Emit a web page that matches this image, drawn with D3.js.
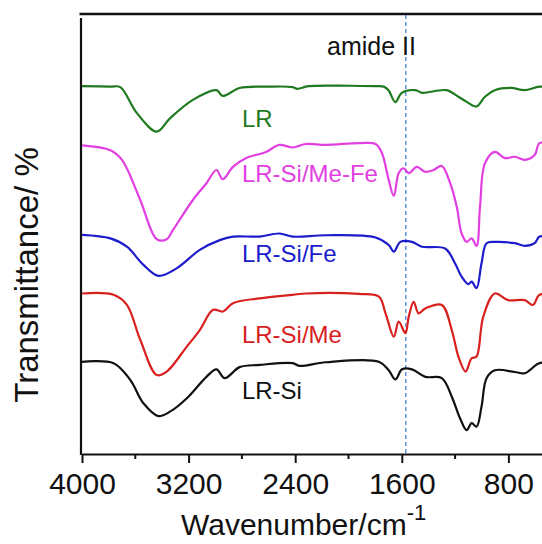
<!DOCTYPE html>
<html>
<head>
<meta charset="utf-8">
<script src="https://cdn.jsdelivr.net/npm/d3@7"></script>
<style>
  html, body { margin: 0; padding: 0; background: #fff; }
  svg { display: block; }
  text { font-family: "Liberation Sans", Arial, "DejaVu Sans", sans-serif; fill: #111; }
</style>
</head>
<body>
<svg id="chart" width="542" height="544"></svg>
<script>
// Wavenumber (cm-1) and transmittance (arbitrary, offset) for each spectrum
const lrWn = [4000, 3787, 3713, 3588, 3439, 3340, 3168, 2991, 2944, 2817, 2600, 2419, 2384, 2300, 2000, 1800, 1735, 1700, 1648, 1601, 1498, 1449, 1265, 1175, 1116, 1041, 976, 902, 780, 678, 566, 450];
const lrT  = [83.4, 83.3, 83.2, 77.3, 73.1, 76.1, 80.3, 82.5, 81.2, 83.0, 83.3, 83.2, 82.8, 83.4, 83.5, 83.4, 83.3, 82.5, 79.8, 81.9, 82.5, 81.9, 82.5, 81.0, 79.9, 78.8, 81.0, 82.5, 83.0, 82.5, 83.3, 83.0];

const meFeWn = [4000, 3787, 3700, 3563, 3439, 3364, 3317, 3168, 3066, 2991, 2944, 2867, 2767, 2618, 2519, 2419, 2319, 2170, 1922, 1797, 1750, 1698, 1660, 1623, 1586, 1548, 1487, 1424, 1362, 1300, 1237, 1188, 1151, 1113, 1076, 1039, 1013, 976, 902, 827, 752, 678, 603, 566, 450];
const meFeT  = [70.0, 68.9, 66.7, 57.6, 48.7, 48.7, 50.8, 57.6, 61.4, 64.4, 62.3, 65.1, 67.1, 68.5, 70.1, 69.5, 70.3, 70.1, 70.5, 70.3, 68.3, 62.1, 58.5, 63.7, 64.8, 63.7, 65.1, 64.0, 64.4, 65.3, 61.4, 56.1, 50.0, 48.1, 48.9, 47.2, 56.1, 65.9, 68.5, 67.1, 67.4, 66.7, 67.8, 70.5, 70.0];

const siFeWn = [4000, 3787, 3663, 3539, 3427, 3290, 3116, 2966, 2867, 2668, 2519, 2419, 2170, 1797, 1698, 1660, 1610, 1524, 1449, 1275, 1200, 1151, 1101, 1076, 1039, 1002, 964, 902, 752, 678, 603, 566, 450];
const siFeT  = [49.7, 48.9, 47.0, 42.9, 40.4, 42.1, 46.3, 48.5, 49.3, 49.3, 50.0, 49.3, 49.6, 49.1, 47.4, 45.9, 48.1, 48.1, 47.0, 46.6, 43.2, 40.2, 38.5, 39.1, 37.6, 43.2, 47.8, 48.1, 47.8, 47.2, 47.8, 49.3, 49.0];

const siMeWn = [4000, 3763, 3663, 3563, 3439, 3364, 3215, 3116, 3016, 2942, 2867, 2668, 2419, 2319, 1922, 1772, 1722, 1660, 1623, 1573, 1548, 1511, 1474, 1424, 1300, 1225, 1175, 1121, 1076, 1039, 989, 902, 802, 678, 616, 566, 450];
const siMeT  = [36.4, 36.1, 33.8, 25.9, 17.9, 18.7, 24.3, 28.1, 32.7, 32.3, 34.2, 35.3, 36.1, 36.4, 36.3, 35.7, 31.9, 26.6, 30.0, 27.4, 31.1, 34.5, 31.9, 33.0, 33.8, 28.1, 22.1, 18.7, 21.7, 22.1, 31.1, 36.4, 34.9, 34.9, 33.8, 36.1, 36.0];

const siWn = [4000, 3763, 3638, 3539, 3427, 3340, 3215, 3066, 2991, 2929, 2817, 2668, 2419, 2369, 2170, 1772, 1698, 1648, 1598, 1524, 1424, 1300, 1225, 1163, 1113, 1076, 1039, 1002, 964, 902, 752, 678, 566, 450];
const siT  = [20.9, 20.6, 16.8, 11.5, 8.6, 9.6, 12.6, 17.5, 19.2, 17.2, 19.7, 20.2, 20.6, 20.0, 20.8, 20.9, 19.0, 16.9, 19.2, 19.2, 17.5, 17.2, 13.0, 8.1, 5.4, 7.0, 6.2, 10.7, 17.2, 19.0, 18.6, 18.3, 20.6, 20.5];

const seriesNames  = ["LR", "LR-Si/Me-Fe", "LR-Si/Fe", "LR-Si/Me", "LR-Si"];
const seriesColors = ["#1f7a1f", "#e23fe2", "#1c1ccc", "#d8211f", "#111111"];
const xTickValues = [4000, 3200, 2400, 1600, 800];
const xMinorTicks = [3600, 2800, 2000, 1200];
const amideWn = 1570;
const amideLabel = "amide II";
const xTitle = "Wavenumber/cm";
const xTitleSup = "-1";
const yTitle = "Transmittance/ %";

const series = [
  {wn: lrWn, t: lrT}, {wn: meFeWn, t: meFeT}, {wn: siFeWn, t: siFeT},
  {wn: siMeWn, t: siMeT}, {wn: siWn, t: siT}
];
// label anchor (wavenumber, transmittance) for each series label
const labelWn = [2800, 2800, 2800, 2800, 2800];
const labelT  = [74.2, 61.6, 43.5, 25.2, 12.5];

const svg = d3.select("#chart");
const x0 = 82, xEnd = 82 + 3600 * 106.6 / 800;
const x = d3.scaleLinear().domain([4000, 400]).range([x0, xEnd]);
const y = d3.scaleLinear().domain([0, 100]).range([454, 13]);

// frame: top line and left axis
svg.append("line").attr("x1", 79.5).attr("x2", 542).attr("y1", 14).attr("y2", 14)
  .attr("stroke", "#111").attr("stroke-width", 2.6);
svg.append("line").attr("x1", 81).attr("x2", 81).attr("y1", 18).attr("y2", 455)
  .attr("stroke", "#111").attr("stroke-width", 2.2);

// dashed amide II line
svg.append("line").attr("x1", x(amideWn)).attr("x2", x(amideWn)).attr("y1", 15).attr("y2", 454)
  .attr("stroke", "#4a80dc").attr("stroke-width", 1.3).attr("stroke-dasharray", "4,3");

// bottom axis
const xAxis = d3.axisBottom(x).tickValues(xTickValues).tickSize(9).tickSizeOuter(0)
  .tickFormat(d3.format("d"));
const gx = svg.append("g").attr("transform", "translate(0,454)").call(xAxis);
gx.select(".domain").attr("stroke", "#111").attr("stroke-width", 2.2);
gx.selectAll(".tick line").attr("stroke", "#111").attr("stroke-width", 2);
gx.selectAll(".tick text").attr("font-size", 30).attr("dy", null).attr("y", 39.5)
  .style("font-family", '"Liberation Sans", Arial, sans-serif').attr("fill", "#111");
const gMinor = svg.append("g").attr("transform", "translate(0,454)");
gMinor.selectAll("line").data(xMinorTicks).join("line")
  .attr("x1", d => x(d)).attr("x2", d => x(d)).attr("y1", 0).attr("y2", 5)
  .attr("stroke", "#111").attr("stroke-width", 2);

// spectra
const line = d3.line().curve(d3.curveCatmullRom.alpha(0.5));
series.forEach((s, i) => {
  const pts = s.wn.map((w, k) => [x(w), y(s.t[k])]);
  svg.append("path").attr("d", line(pts)).attr("fill", "none")
    .attr("stroke", seriesColors[i]).attr("stroke-width", 2.2).attr("stroke-linejoin", "round");
});

// series labels
seriesNames.forEach((n, i) => {
  svg.append("text").attr("x", x(labelWn[i])).attr("y", y(labelT[i]))
    .attr("font-size", 24).style("fill", seriesColors[i]).text(n);
});

// amide II label
svg.append("text").attr("x", 327).attr("y", 55).attr("font-size", 25).text(amideLabel);

// axis titles
const xt = svg.append("text").attr("x", 181).attr("y", 535).attr("font-size", 30);
xt.append("tspan").text(xTitle);
xt.append("tspan").attr("font-size", 22).attr("dy", -15).text(xTitleSup);

svg.append("text").attr("transform", "translate(38,275) rotate(-90)")
  .attr("text-anchor", "middle").attr("font-size", 33).text(yTitle);
</script>
</body>
</html>
